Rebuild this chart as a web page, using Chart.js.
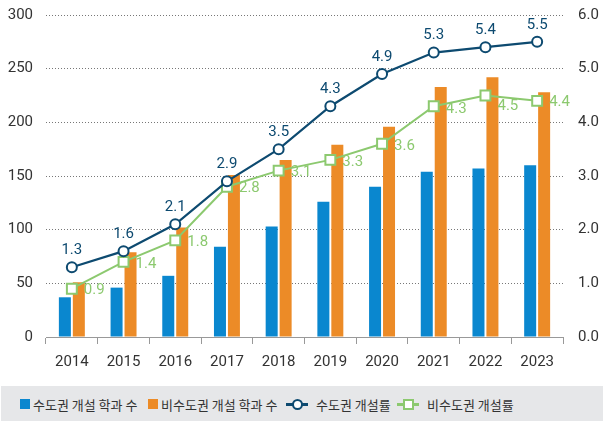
<!DOCTYPE html>
<html>
<head>
<meta charset="utf-8">
<script src="https://cdn.jsdelivr.net/npm/chart.js@4/dist/chart.umd.min.js"></script>
<style>
  html, body { margin: 0; padding: 0; background: #fff; }
  #wrap { position: relative; width: 603px; height: 421px; }
  #chartBox { position: absolute; left: 0; top: 0; width: 603px; height: 375px; }
  #legend {
    position: absolute; left: 1px; top: 386px; width: 602px; height: 35px;
    background: #e6e7e9; font-family: "Noto Sans CJK KR", "Noto Sans", sans-serif;
    font-size: 13px; color: #333;
  }
  .item { position: absolute; top: 0; height: 36px; display: flex; align-items: center; white-space: nowrap; }
  .sq { width: 10px; height: 10px; margin-right: 3px; }
  .mk { position: relative; width: 22px; height: 12px; margin-right: 8px; }
  .mk .ln { position: absolute; left: 0; right: 0; top: 5px; height: 2.5px; }
  .mk .pt { position: absolute; left: 6px; top: 1px; width: 7px; height: 7px; background: #fff; border: 2px solid; }
</style>
</head>
<body>
<div id="wrap">
  <div id="chartBox"><canvas id="chart"></canvas></div>
  <div id="legend"></div>
</div>
<script>
// 연도별 데이터
const years = ['2014', '2015', '2016', '2017', '2018', '2019', '2020', '2021', '2022', '2023'];
const capitalDepts = [37, 46, 57, 84, 103, 126, 140, 154, 157, 160];
const nonCapitalDepts = [51, 79, 102, 151, 165, 179, 196, 233, 242, 228];
const capitalRate = [1.3, 1.6, 2.1, 2.9, 3.5, 4.3, 4.9, 5.3, 5.4, 5.5];
const nonCapitalRate = [0.9, 1.4, 1.8, 2.8, 3.1, 3.3, 3.6, 4.3, 4.5, 4.4];

const seriesNames = ['수도권 개설 학과 수', '비수도권 개설 학과 수', '수도권 개설률', '비수도권 개설률'];

// 비수도권 라벨 세로 위치 보정 (2022만 아래로)
const greenLabelDy = [2, 2, 2, 2, 2, 2, 2, 3, 11, 1];

const BLUE = '#0a87cf';
const ORANGE = '#ec8b27';
const NAVY = '#0d4a70';
const GREEN = '#8cc96f';
const FONT = 'Roboto, "Noto Sans", sans-serif';

// 꺾은선 값 라벨
const valueLabels = {
  id: 'valueLabels',
  afterDatasetsDraw(chart) {
    const ctx = chart.ctx;
    ctx.save();
    ctx.font = '15px ' + FONT;
    ctx.textBaseline = 'middle';
    chart.data.datasets.forEach((ds, i) => {
      if (ds.type !== 'line') return;
      const meta = chart.getDatasetMeta(i);
      meta.data.forEach((pt, j) => {
        const txt = ds.data[j].toFixed(1);
        ctx.fillStyle = ds.borderColor;
        if (i === 0) {
          ctx.textAlign = 'center';
          ctx.fillText(txt, pt.x, pt.y - 17);
        } else {
          ctx.textAlign = 'left';
          ctx.fillText(txt, pt.x + 12, pt.y + greenLabelDy[j]);
        }
      });
    });
    ctx.restore();
  }
};

// 세로축 라벨 여백이 차트 영역을 밀어내지 않도록
const noVPad = (s) => { s.paddingTop = 0; s.paddingBottom = 0; };

new Chart(document.getElementById('chart'), {
  type: 'bar',
  data: {
    labels: years,
    datasets: [
      {
        type: 'line', label: seriesNames[2], data: capitalRate, yAxisID: 'y1', order: 0,
        borderColor: NAVY, borderWidth: 2.2, pointStyle: 'circle', pointRadius: 5,
        pointBorderWidth: 2, pointBackgroundColor: '#fff', pointBorderColor: NAVY, tension: 0
      },
      {
        type: 'line', label: seriesNames[3], data: nonCapitalRate, yAxisID: 'y1', order: 1,
        borderColor: GREEN, borderWidth: 2, pointStyle: 'rect', pointRadius: 7,
        pointBorderWidth: 2, pointBackgroundColor: '#fff', pointBorderColor: GREEN, tension: 0
      },
      {
        label: seriesNames[0], data: capitalDepts, yAxisID: 'y', order: 2,
        backgroundColor: BLUE, barPercentage: 0.86, categoryPercentage: 0.54
      },
      {
        label: seriesNames[1], data: nonCapitalDepts, yAxisID: 'y', order: 3,
        backgroundColor: ORANGE, barPercentage: 0.86, categoryPercentage: 0.54
      }
    ]
  },
  options: {
    responsive: true,
    maintainAspectRatio: false,
    animation: false,
    layout: { padding: { top: 15, left: 0, right: 0, bottom: 0 } },
    plugins: { legend: { display: false }, tooltip: { enabled: false } },
    scales: {
      x: {
        offset: true,
        grid: { offset: true, drawOnChartArea: false, drawTicks: true, tickLength: 7, color: '#999' },
        border: { display: true, color: '#999', width: 1 },
        ticks: { color: '#333', font: { family: FONT, size: 15 }, padding: 9 },
        afterFit: (s) => { s.height = 38; }
      },
      y: {
        position: 'left', min: 0, max: 300,
        ticks: { stepSize: 50, color: '#333', font: { family: FONT, size: 15 }, padding: 13 },
        grid: { color: '#777', drawTicks: false, lineWidth: 1 },
        border: { display: false, dash: [1, 2] },
        afterFit: (s) => { s.width = 46; noVPad(s); }
      },
      y1: {
        position: 'right', min: 0, max: 6,
        ticks: { stepSize: 1, color: '#333', font: { family: FONT, size: 15 }, padding: 15,
          callback: (v) => v.toFixed(1) },
        grid: { drawOnChartArea: false, drawTicks: false },
        border: { display: false },
        afterFit: (s) => { s.width = 40; noVPad(s); }
      }
    }
  },
  plugins: [valueLabels]
});

// HTML 범례
const legendItems = [
  { x: 19, kind: 'sq', color: BLUE },
  { x: 147, kind: 'sq', color: ORANGE },
  { x: 285, kind: 'circle', color: NAVY },
  { x: 396, kind: 'rect', color: GREEN }
];
const legend = document.getElementById('legend');
legendItems.forEach((it, i) => {
  const el = document.createElement('div');
  el.className = 'item';
  el.style.left = it.x + 'px';
  let mark;
  if (it.kind === 'sq') {
    mark = `<span class="sq" style="background:${it.color}"></span>`;
  } else {
    const rad = it.kind === 'circle' ? '50%' : '0';
    mark = `<span class="mk"><span class="ln" style="background:${it.color}"></span>` +
      `<span class="pt" style="border-color:${it.color};border-radius:${rad}"></span></span>`;
  }
  el.innerHTML = mark + `<span>${seriesNames[i]}</span>`;
  legend.appendChild(el);
});
</script>
</body>
</html>
